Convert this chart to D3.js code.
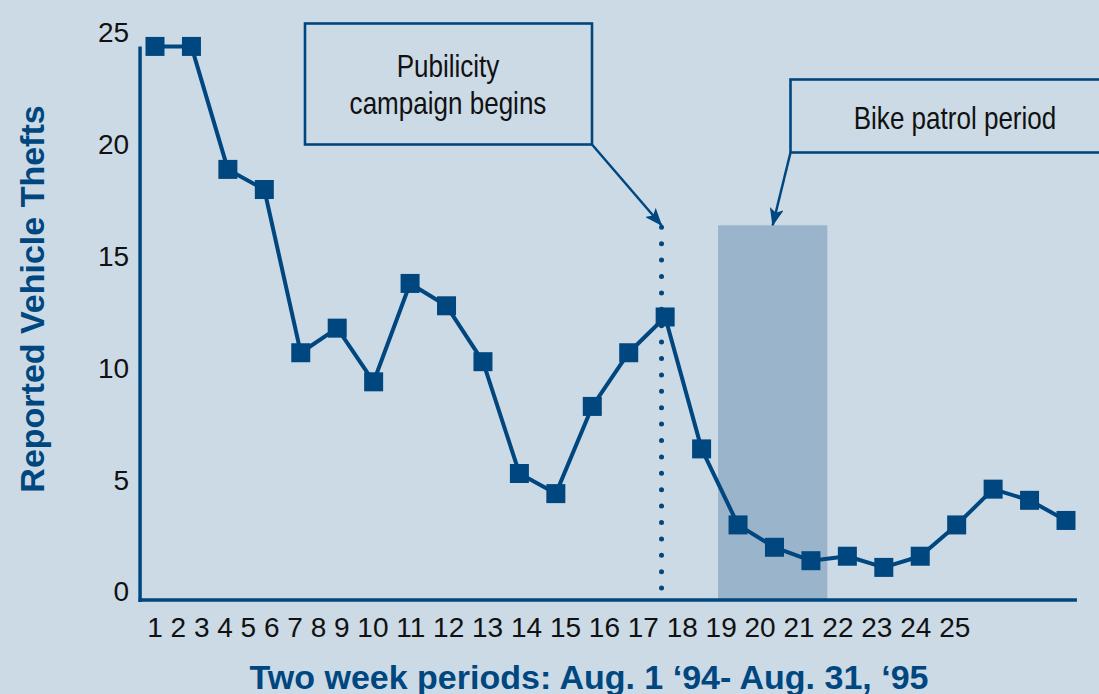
<!DOCTYPE html>
<html>
<head>
<meta charset="utf-8">
<script src="https://cdn.jsdelivr.net/npm/d3@7"></script>
<style>
  html, body { margin: 0; padding: 0; background: #ccdae6; }
  svg { display: block; }
  .tick-label { font-family: 'Liberation Sans', Arial, sans-serif; font-size: 28px; fill: #111; }
  .axis-title { font-family: 'Liberation Sans', Arial, sans-serif; font-size: 34px; font-weight: bold; fill: #00467f; }
  .note { font-family: 'Liberation Sans', Arial, sans-serif; font-size: 31px; fill: #111; }
</style>
</head>
<body>
<svg id="chart" width="1099" height="694"></svg>
<script>
// reported vehicle thefts per two-week period
const periods = d3.range(1, 27);
const thefts = [24.4, 24.4, 18.9, 18.0, 10.7, 11.8, 9.4, 13.8, 12.8, 10.3, 5.3, 4.4, 8.3,
  10.7, 12.3, 6.4, 3.0, 2.0, 1.4, 1.6, 1.1, 1.6, 3.0, 4.6, 4.1, 3.2];
const periodLabels = d3.range(1, 26);
const yTicks = [0, 5, 10, 15, 20, 25];

// annotations, in data units
const campaignStart = 14.9;
const patrolPeriod = [16.45, 19.45];
const markerTop = 16.4;

const blue = '#00467f';
const band = '#9ab4cb';

const svg = d3.select('#chart');

const x = d3.scaleLinear().domain([1, 26]).range([155, 1066]);
const y = d3.scaleLinear().domain([0, 25]).range([592, 33]);

svg.append('defs')
  .append('marker')
  .attr('id', 'arrow')
  .attr('markerUnits', 'userSpaceOnUse')
  .attr('markerWidth', 18)
  .attr('markerHeight', 14)
  .attr('refX', 17)
  .attr('refY', 7)
  .attr('orient', 'auto')
  .append('path')
  .attr('d', 'M0,0 L18,7 L0,14 L4,7 Z')
  .attr('fill', blue);

// bike patrol band
svg.append('rect')
  .attr('x', x(patrolPeriod[0]))
  .attr('y', y(markerTop))
  .attr('width', x(patrolPeriod[1]) - x(patrolPeriod[0]))
  .attr('height', y(-0.36) - y(markerTop))
  .attr('fill', band);

// campaign dotted line
svg.append('line')
  .attr('x1', x(campaignStart))
  .attr('x2', x(campaignStart))
  .attr('y1', y(markerTop) + 2)
  .attr('y2', y(-0.36))
  .attr('stroke', blue)
  .attr('stroke-width', 5)
  .attr('stroke-linecap', 'round')
  .attr('stroke-dasharray', '0,16.4');

// axes
svg.append('line')
  .attr('x1', x(0.59)).attr('x2', x(0.59))
  .attr('y1', y(24.4)).attr('y2', y(-0.36) + 2)
  .attr('stroke', blue).attr('stroke-width', 3.5);

svg.append('line')
  .attr('x1', x(0.59) - 1.5).attr('x2', x(26.3))
  .attr('y1', y(-0.36)).attr('y2', y(-0.36))
  .attr('stroke', blue).attr('stroke-width', 3.5);

const yAxis = svg.append('g')
  .attr('transform', 'translate(' + x(0.59) + ',0)')
  .call(d3.axisLeft(y).tickValues(yTicks).tickSize(0).tickPadding(11));
yAxis.select('.domain').remove();
yAxis.selectAll('text').attr('class', 'tick-label').attr('fill', null).attr('font-size', null).attr('font-family', null);

// period labels set as one text run
svg.append('text')
  .attr('class', 'tick-label')
  .attr('x', x(1) - 7.8)
  .attr('y', 637)
  .text(periodLabels.join(' '));

// line + square markers
const line = d3.line()
  .x((d, i) => x(periods[i]))
  .y(d => y(d));

svg.append('path')
  .datum(thefts)
  .attr('d', line)
  .attr('fill', 'none')
  .attr('stroke', blue)
  .attr('stroke-width', 4)
  .attr('stroke-linejoin', 'round');

const size = 19;
svg.append('g')
  .selectAll('rect')
  .data(thefts)
  .enter()
  .append('rect')
  .attr('x', (d, i) => x(periods[i]) - size / 2)
  .attr('y', d => y(d) - size / 2)
  .attr('width', size)
  .attr('height', size)
  .attr('fill', blue);

// axis titles
svg.append('text')
  .attr('class', 'axis-title')
  .attr('text-anchor', 'middle')
  .attr('transform', 'translate(44,299) rotate(-90)')
  .text('Reported Vehicle Thefts');

svg.append('text')
  .attr('class', 'axis-title')
  .attr('text-anchor', 'middle')
  .attr('x', 589)
  .attr('y', 689)
  .text('Two week periods: Aug. 1 \u201894- Aug. 31, \u201895');

// callout boxes (text squeezed to mimic the condensed face)
const condense = 0.84;

const campaignBox = { x: 305, y: 23.5, w: 287, h: 121 };
svg.append('rect')
  .attr('x', campaignBox.x).attr('y', campaignBox.y)
  .attr('width', campaignBox.w).attr('height', campaignBox.h)
  .attr('fill', 'none').attr('stroke', blue).attr('stroke-width', 2.6);

svg.append('g')
  .attr('transform', 'translate(448,0) scale(' + condense + ',1)')
  .append('text')
  .attr('class', 'note')
  .attr('text-anchor', 'middle')
  .selectAll('tspan')
  .data(['Pubilicity', 'campaign begins'])
  .enter()
  .append('tspan')
  .attr('x', 0)
  .attr('y', (d, i) => 77 + i * 37)
  .text(d => d);

svg.append('line')
  .attr('x1', campaignBox.x + campaignBox.w).attr('y1', campaignBox.y + campaignBox.h)
  .attr('x2', x(campaignStart)).attr('y2', y(markerTop))
  .attr('stroke', blue).attr('stroke-width', 2.5)
  .attr('marker-end', 'url(#arrow)');

const patrolBox = { x: 790.5, y: 79.5, w: 330, h: 73 };
svg.append('rect')
  .attr('x', patrolBox.x).attr('y', patrolBox.y)
  .attr('width', patrolBox.w).attr('height', patrolBox.h)
  .attr('fill', 'none').attr('stroke', blue).attr('stroke-width', 2.6);

svg.append('g')
  .attr('transform', 'translate(955,0) scale(' + condense + ',1)')
  .append('text')
  .attr('class', 'note')
  .attr('text-anchor', 'middle')
  .attr('x', 0)
  .attr('y', 129)
  .text('Bike patrol period');

svg.append('line')
  .attr('x1', patrolBox.x).attr('y1', patrolBox.y + patrolBox.h)
  .attr('x2', x(17.95)).attr('y2', y(markerTop))
  .attr('stroke', blue).attr('stroke-width', 2.5)
  .attr('marker-end', 'url(#arrow)');
</script>
</body>
</html>
